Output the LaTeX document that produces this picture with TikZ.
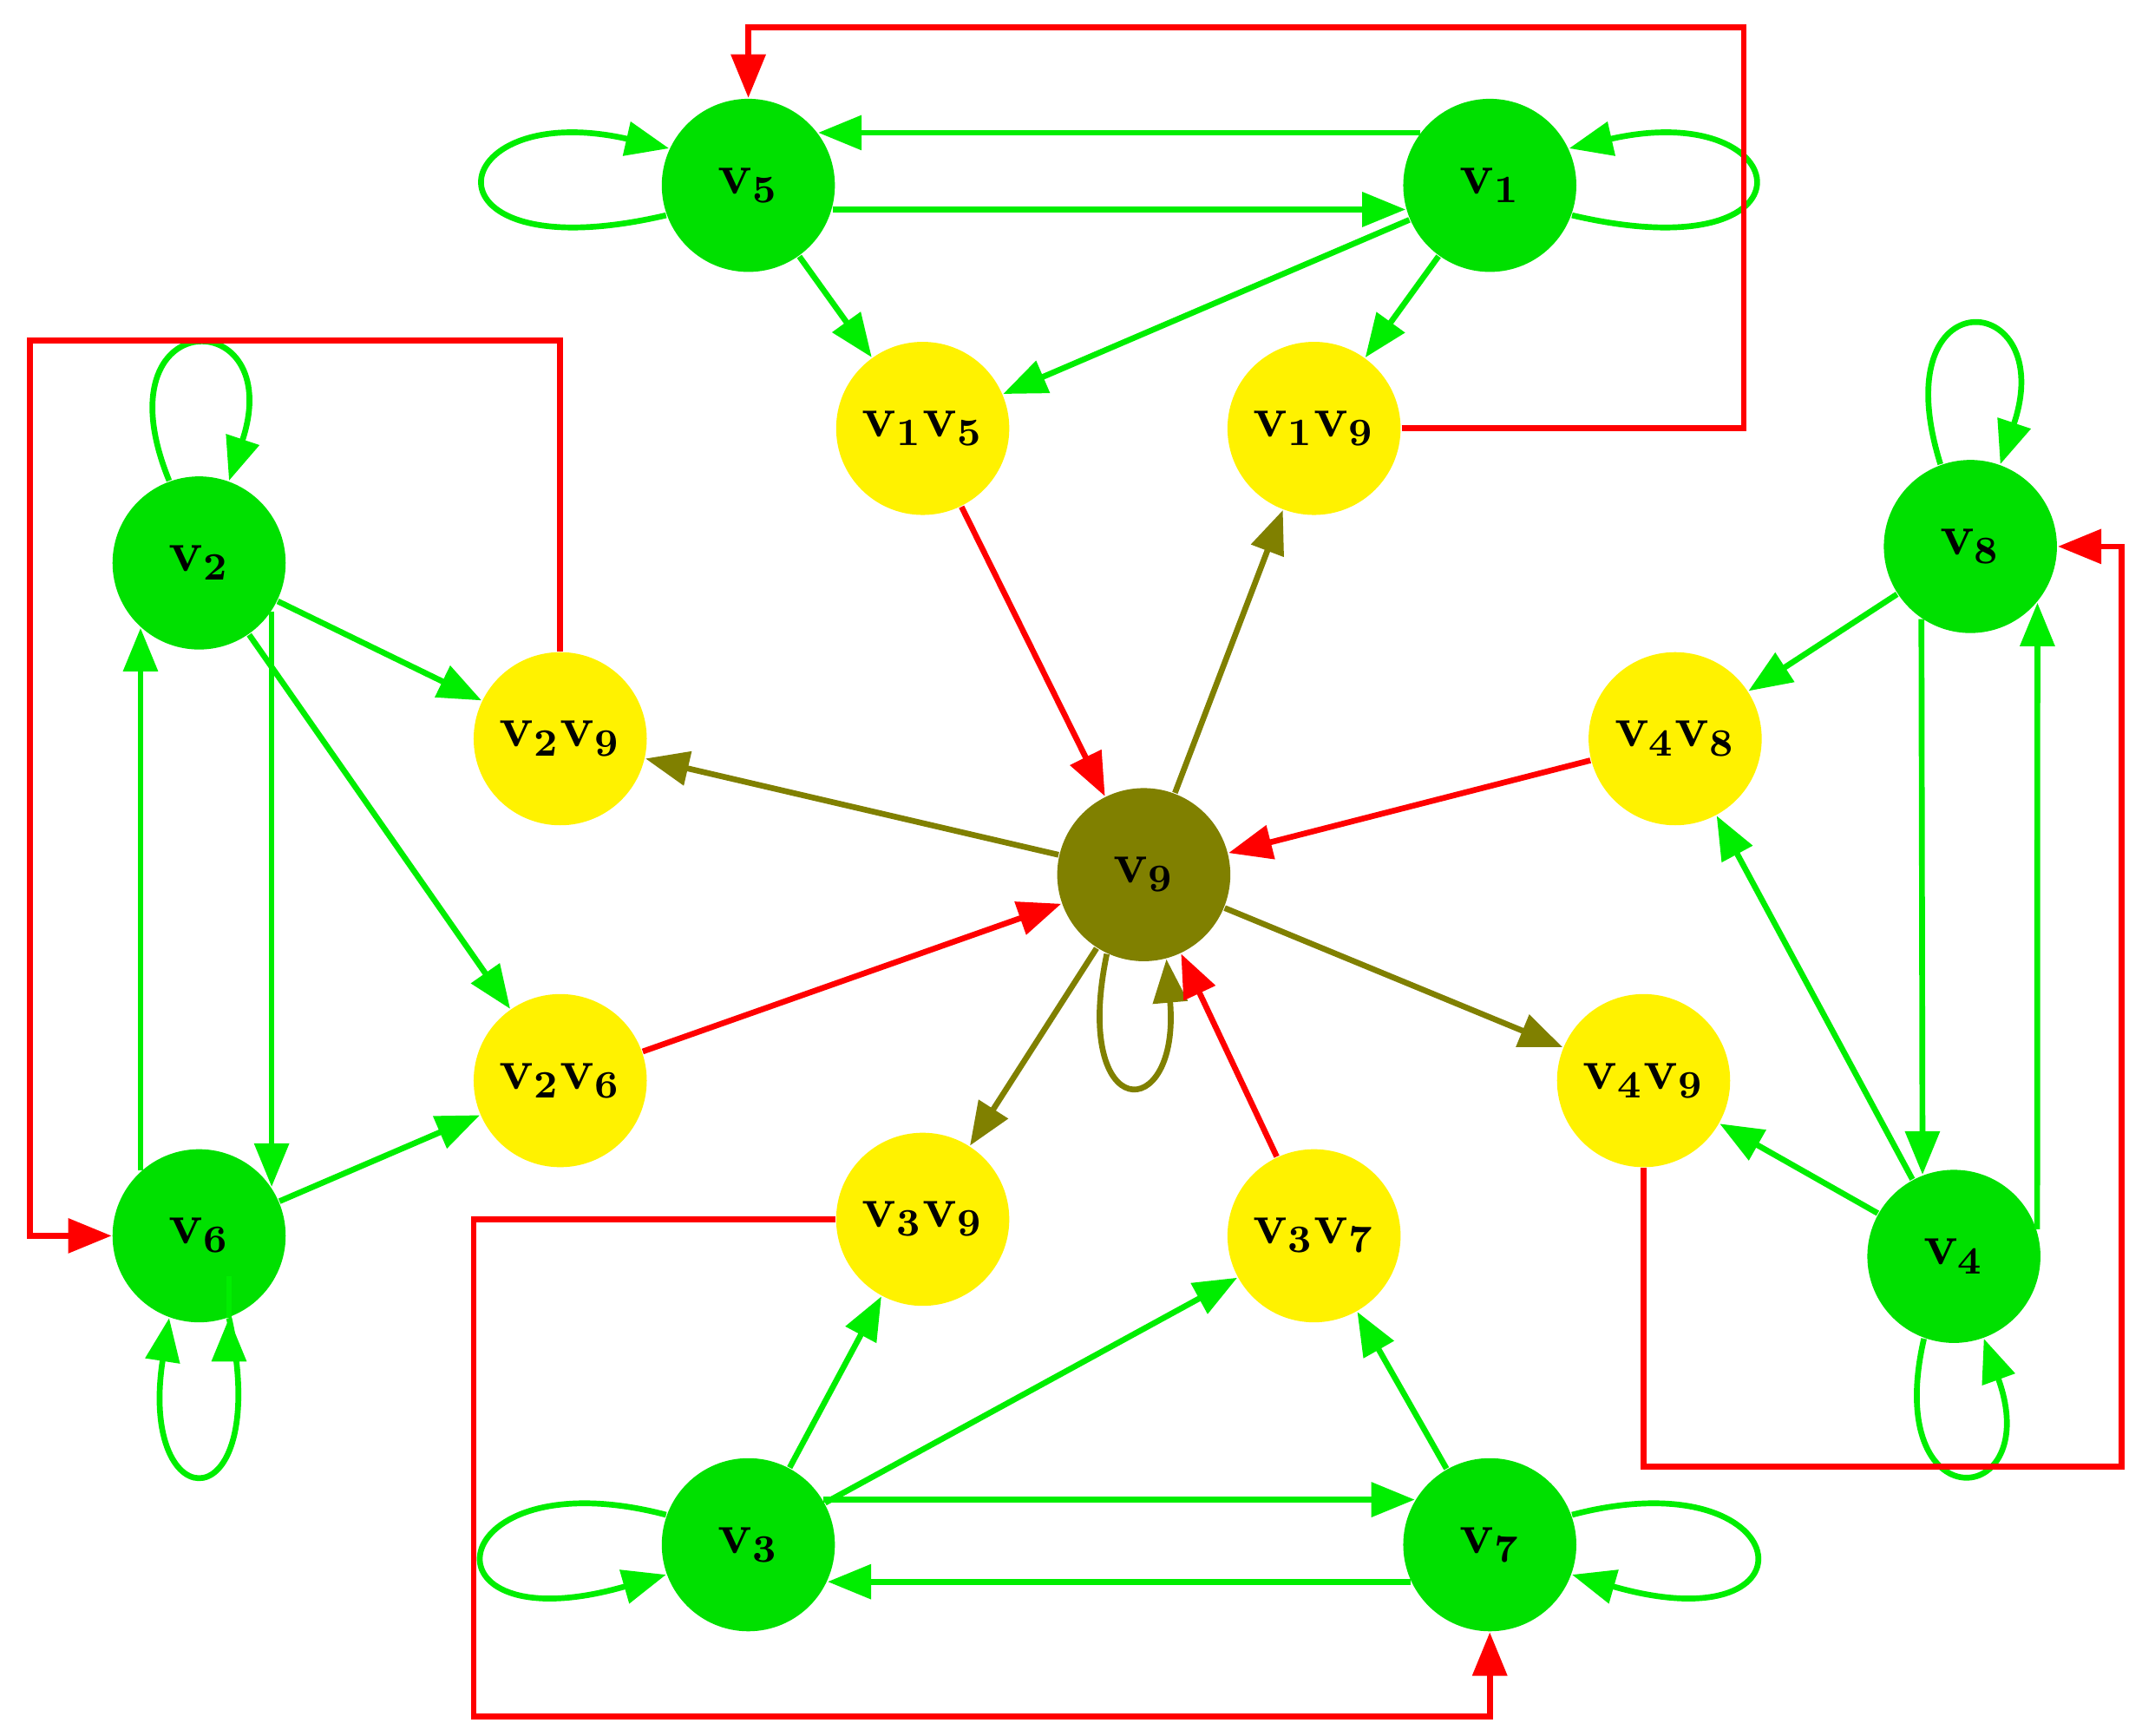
\documentclass[tikz,border=0pt]{standalone}
\usetikzlibrary{arrows.meta}
\begin{document}
\begin{tikzpicture}[x=0.01cm,y=-0.01cm,
 gn/.style={circle,fill=gfill,minimum size=1.26cm,inner sep=0pt,font=\fontsize{12}{14}\selectfont\bfseries},
 yn/.style={gn,fill=yellow},
 on/.style={gn,fill=olive9},
 ge/.style={draw=gline,line width=1.2pt,-{Triangle[length=9pt,width=7pt]}},
 oe/.style={ge,draw=olive9,-{Triangle[length=9pt,width=7pt]},color=olive9},
 re/.style={ge,draw=red,color=red},
 ge/.append style={color=gline}]
\definecolor{gfill}{RGB}{0,224,0}
\definecolor{gline}{RGB}{0,238,0}
\definecolor{olive9}{RGB}{128,128,0}
\path[use as bounding box] (0,0) rectangle (1560,1264);
\node[gn] (v5) at (545,135) {v\textsubscript{5}};
\node[gn] (v1) at (1085,135) {v\textsubscript{1}};
\node[yn] (v1v5) at (672,312) {v\textsubscript{1}v\textsubscript{5}};
\node[yn] (v1v9) at (957,312) {v\textsubscript{1}v\textsubscript{9}};
\node[gn] (v2) at (145,410) {v\textsubscript{2}};
\node[gn] (v6) at (145,900) {v\textsubscript{6}};
\node[yn] (v2v9) at (408,538) {v\textsubscript{2}v\textsubscript{9}};
\node[yn] (v2v6) at (408,787) {v\textsubscript{2}v\textsubscript{6}};
\node[on] (v9) at (833,637) {v\textsubscript{9}};
\node[gn] (v8) at (1435,398) {v\textsubscript{8}};
\node[gn] (v4) at (1423,915) {v\textsubscript{4}};
\node[yn] (v4v8) at (1220,538) {v\textsubscript{4}v\textsubscript{8}};
\node[yn] (v4v9) at (1197,787) {v\textsubscript{4}v\textsubscript{9}};
\node[yn] (v3v9) at (672,888) {v\textsubscript{3}v\textsubscript{9}};
\node[yn] (v3v7) at (957,900) {v\textsubscript{3}v\textsubscript{7}};
\node[gn] (v3) at (545,1125) {v\textsubscript{3}};
\node[gn] (v7) at (1085,1125) {v\textsubscript{7}};
\coordinate (r1) at (1270,20);
\coordinate (r2) at (22,248);
\coordinate (r3) at (1545,1068);
\coordinate (r4) at (345,1250);
% green
\draw[ge] (v1.143) -- (v5.37);
\draw[ge] (v5.-16) -- (v1.196);
\draw[ge] (v5.200) .. controls (300,200) and (320,70) .. (v5.155);
\draw[ge] (v1.-20) .. controls (1330,200) and (1310,70) .. (v1.25);
\draw[ge] (v5) -- (v1v5);
\draw[ge] (v1) -- (v1v5);
\draw[ge] (v1) -- (v1v9);
\draw[ge] (v2.110) .. controls (70,220) and (210,220) .. (v2.70);
\draw[ge] (v6.-70) .. controls (200,1110) and (100,1110) .. (v6.250);
\draw[ge] (v6.-70) -- ++(0,0);
\draw[ge] (v2.-34) -- (v6.34);
\draw[ge] (v6.132) -- (v2.228);
\draw[ge] (v2) -- (v2v9);
\draw[ge] (v2) -- (v2v6);
\draw[ge] (v6) -- (v2v6);
\draw[ge] (v8.110) .. controls (1370,200) and (1500,210) .. (v8.70);
\draw[ge] (v4.250) .. controls (1370,1110) and (1490,1100) .. (v4.-70);
\draw[ge] (v8.236) -- (v4.111);
\draw[ge] (v4.18) -- (v8.-40);
\draw[ge] (v8) -- (v4v8);
\draw[ge] (v4) -- (v4v8);
\draw[ge] (v4) -- (v4v9);
\draw[ge] (v3.31) -- (v7.149);
\draw[ge] (v7.205) -- (v3.-25);
\draw[ge] (v3.160) .. controls (320,1060) and (300,1200) .. (v3.200);
\draw[ge] (v7.20) .. controls (1310,1060) and (1330,1200) .. (v7.-20);
\draw[ge] (v3) -- (v3v9);
\draw[ge] (v3) -- (v3v7);
\draw[ge] (v7) -- (v3v7);
% olive
\draw[oe] (v9) -- (v1v9);
\draw[oe] (v9) -- (v2v9);
\draw[oe] (v9) -- (v4v9);
\draw[oe] (v9) -- (v3v9);
\draw[oe] (v9.245) .. controls (780,820) and (860,820) .. (v9.-75);
% red
\draw[re] (v1v5) -- (v9);
\draw[re] (v4v8) -- (v9);
\draw[re] (v2v6) -- (v9);
\draw[re] (v3v7) -- (v9);
\draw[re] (v1v9.east) -| (r1) -| (v5.north);
\draw[re] (v2v9.north) |- (r2) |- (v6.west);
\draw[re] (v4v9.south) |- (r3) |- (v8.east);
\draw[re] (v3v9.west) -| (r4) -| (v7.south);
\end{tikzpicture}
\end{document}
